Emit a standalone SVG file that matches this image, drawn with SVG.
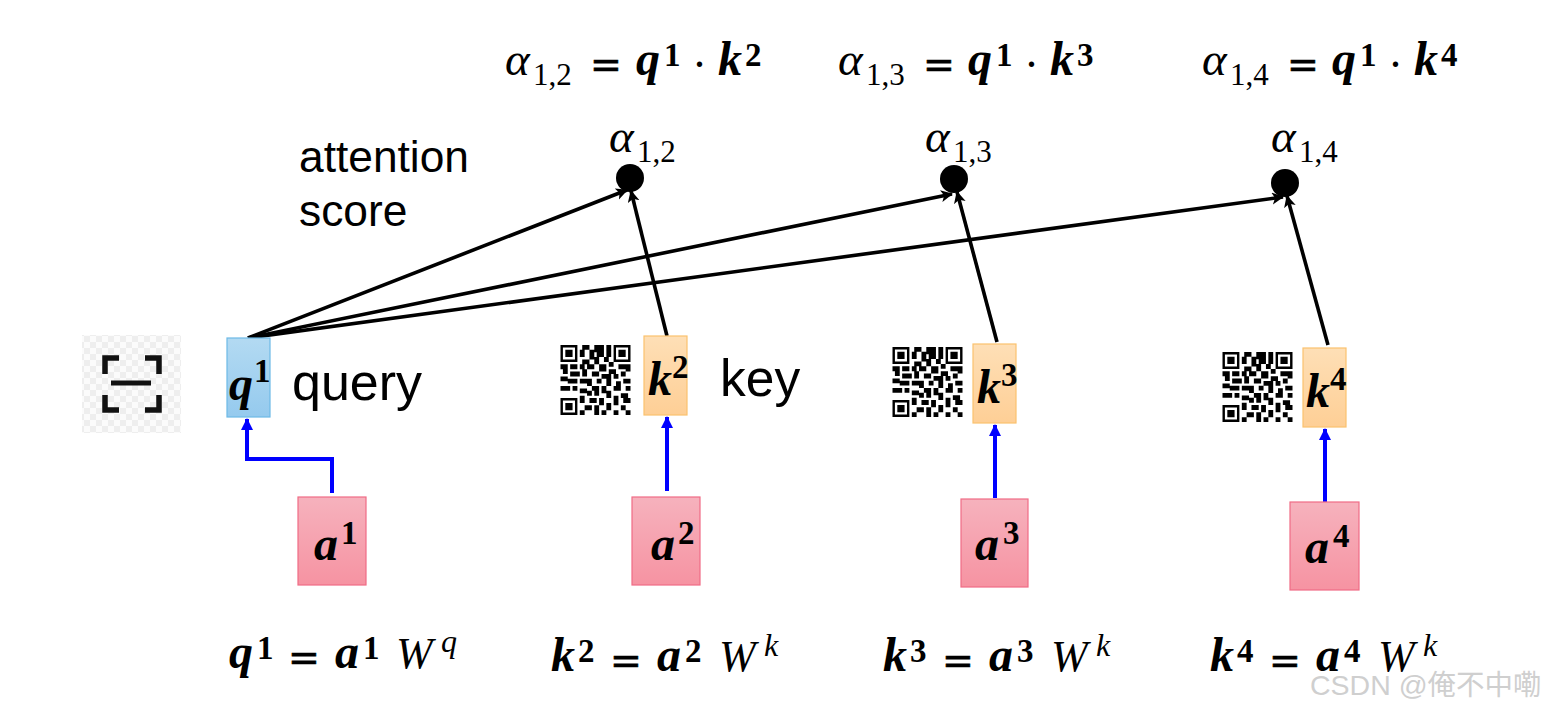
<svg xmlns="http://www.w3.org/2000/svg" xmlns:xlink="http://www.w3.org/1999/xlink" width="1544" height="710" viewBox="0 0 1544 710">
<style>
text{font-family:"Liberation Serif",serif;fill:#000}
.b{font-weight:bold;font-style:italic;font-size:48px}
.n{font-weight:bold;font-size:33px}
.i{font-style:italic;font-size:47px}
.sub{font-size:31px}
.wv{font-style:italic;font-size:44px}
.ws{font-style:italic;font-size:32px}
.eq{font-family:"DejaVu Sans",sans-serif;font-size:38px;stroke:#000;stroke-width:.7}
.l{font-family:"Liberation Sans",sans-serif}
.w{font-family:"Liberation Sans","Noto Sans CJK SC",sans-serif;font-size:28.500px;fill:#cfcfcf}
.blue{fill:url(#gb);stroke:#6db9e6;stroke-width:1.2}
.org{fill:url(#go);stroke:#fbc26e;stroke-width:1.2}
.red{fill:url(#gr);stroke:#f06c85;stroke-width:1.2}
.bk{fill:none;stroke:#000;stroke-width:3.6;marker-end:url(#ak)}
.bl{fill:none;stroke:#0000ff;stroke-width:4;marker-end:url(#ab)}
</style>
<defs>
<linearGradient id="gb" x1="0" y1="0" x2="0" y2="1"><stop offset="0" stop-color="#b3daf2"/><stop offset="1" stop-color="#95caee"/></linearGradient>
<linearGradient id="go" x1="0" y1="0" x2="0" y2="1"><stop offset="0" stop-color="#fedfb6"/><stop offset="1" stop-color="#fecf96"/></linearGradient>
<linearGradient id="gr" x1="0" y1="0" x2="0" y2="1"><stop offset="0" stop-color="#f6b2bd"/><stop offset="1" stop-color="#f693a2"/></linearGradient>
<marker id="ak" markerUnits="userSpaceOnUse" markerWidth="14" markerHeight="14" refX="11" refY="6" orient="auto"><path d="M0 0L12 6L0 12L3 6Z" fill="#000"/></marker>
<marker id="ab" markerUnits="userSpaceOnUse" markerWidth="14" markerHeight="14" refX="11" refY="6" orient="auto"><path d="M0 0L12 6L0 12Z" fill="#0000ff"/></marker>
<pattern id="chk" width="12" height="12" patternUnits="userSpaceOnUse"><rect width="12" height="12" fill="#fbfbfb"/><rect width="6" height="6" fill="#eeeeee"/><rect x="6" y="6" width="6" height="6" fill="#eeeeee"/></pattern>
<symbol id="qr" viewBox="0 0 29 29">
<path fill="#000" fill-rule="evenodd" d="M0 0h7v7h-7zM1 1v5h5v-5zM2 2h3v3h-3zM22 0h7v7h-7zM23 1v5h5v-5zM24 2h3v3h-3zM0 22h7v7h-7zM1 23v5h5v-5zM2 24h3v3h-3z
M9 0h3v2h-3zM14 0h4v3h-4zM19 0h2v2h-2zM8 2h2v3h-2zM12 2h2v4h-2zM15 3h3v2h-3zM19 2h2v3h-2zM9 6h3v2h-3zM14 5h2v3h-2zM18 5h2v2h-2zM8 8h2v2h-2zM11 8h3v2h-3zM16 8h3v3h-3zM20 7h2v2h-2z
M0 8h3v2h-3zM4 8h3v2h-3zM1 10h2v2h-2zM4 11h4v2h-4zM9 10h2v3h-2zM13 11h3v2h-3zM20 10h3v2h-3zM24 8h3v2h-3zM27 8h2v3h-2zM25 11h2v2h-2zM22 12h2v2h-2zM17 12h4v2h-4z
M0 13h3v2h-3zM3 14h4v2h-4zM8 14h3v2h-3zM11 14h2v3h-2zM15 14h2v2h-2zM19 14h2v3h-2zM26 14h3v2h-3zM23 15h2v2h-2zM0 17h4v2h-4zM5 17h2v2h-2zM8 18h3v2h-3zM13 17h3v2h-3zM17 17h2v3h-2zM22 17h3v2h-3zM27 17h2v2h-2z
M11 19h2v2h-2zM14 19h2v2h-2zM19 19h2v3h-2zM25 20h3v2h-3zM8 21h2v3h-2zM12 22h3v2h-3zM16 22h2v3h-2zM22 21h2v4h-2zM26 22h3v2h-3zM10 25h3v2h-3zM14 25h2v4h-2zM19 24h2v3h-2zM25 25h2v2h-2zM8 27h2v2h-2zM17 27h2v2h-2zM22 27h2v2h-2zM27 27h2v2h-2z"/>
</symbol>
</defs>

<g id="scan-icon">
<rect x="82" y="335" width="99" height="98" fill="url(#chk)"/>
<path d="M119 358H105V374M145 358H159V374M105 395V410H119M159 395V410H145" fill="none" stroke="#111" stroke-width="5.5"/>
<path d="M111 383H151" fill="none" stroke="#111" stroke-width="5"/>
</g>

<g id="connectors">
<path class="bk" d="M248 338L627 190"/>
<path class="bk" d="M248 338L952 194"/>
<path class="bk" d="M248 338L1283 197"/>
<path class="bk" d="M667 336L631 191"/>
<path class="bk" d="M997 342L957 192"/>
<path class="bk" d="M1328 345L1287 196"/>
<path class="bl" d="M332 493V459H247V419"/>
<path class="bl" d="M667 491V417"/>
<path class="bl" d="M995 498V425"/>
<path class="bl" d="M1325 502V429"/>
</g>

<g id="q1"><rect class="blue" x="227" y="338" width="43" height="79"/><text class="b" x="229" y="400">q</text><text class="n" x="254" y="382">1</text></g>
<g id="k2"><use xlink:href="#qr" href="#qr" x="560" y="345" width="71" height="70"/><rect class="org" x="644" y="336" width="43" height="79"/><text class="b" x="648" y="395">k</text><text class="n" x="672" y="378">2</text></g>
<g id="k3"><use xlink:href="#qr" href="#qr" x="892" y="347" width="71" height="70"/><rect class="org" x="973" y="344" width="43" height="79"/><text class="b" x="977" y="403">k</text><text class="n" x="1001" y="386">3</text></g>
<g id="k4"><use xlink:href="#qr" href="#qr" x="1222" y="352" width="71" height="70"/><rect class="org" x="1303" y="348" width="43" height="79"/><text class="b" x="1306" y="407">k</text><text class="n" x="1330" y="390">4</text></g>

<g id="a1"><rect class="red" x="298" y="497" width="68" height="88"/><text class="b" x="314" y="560">a</text><text class="n" x="341" y="544">1</text></g>
<g id="a2"><rect class="red" x="632" y="497" width="68" height="88"/><text class="b" x="651" y="560">a</text><text class="n" x="678" y="544">2</text></g>
<g id="a3"><rect class="red" x="961" y="499" width="67" height="88"/><text class="b" x="975" y="560">a</text><text class="n" x="1003" y="544">3</text></g>
<g id="a4"><rect class="red" x="1290" y="502" width="69" height="88"/><text class="b" x="1305" y="563">a</text><text class="n" x="1333" y="547">4</text></g>

<g id="alpha12"><circle cx="630" cy="178" r="14"/><text class="i" x="609" y="152">α</text><text class="sub" x="637" y="162">1,2</text></g>
<g id="alpha13"><circle cx="954" cy="179" r="14"/><text class="i" x="925" y="152">α</text><text class="sub" x="953" y="162">1,3</text></g>
<g id="alpha14"><circle cx="1285" cy="183" r="14"/><text class="i" x="1271" y="152">α</text><text class="sub" x="1299" y="162">1,4</text></g>

<g id="labels">
<text class="l" font-size="44.300" x="299" y="172">attention</text>
<text class="l" font-size="44.300" x="299" y="226">score</text>
<text class="l" font-size="52" x="292" y="400">query</text>
<text class="l" font-size="51.500" x="720" y="396">key</text>
</g>

<g id="top-formulas">
<g><text class="i" x="505" y="75">α</text><text class="sub" x="533" y="85">1,2</text><text class="eq" x="590" y="77">=</text><text class="b" x="636" y="75">q</text><text class="n" x="664" y="66">1</text><text class="n" x="694" y="75">·</text><text class="b" x="718" y="75">k</text><text class="n" x="745" y="66">2</text></g>
<g><text class="i" x="838" y="75">α</text><text class="sub" x="866" y="85">1,3</text><text class="eq" x="923" y="77">=</text><text class="b" x="968" y="75">q</text><text class="n" x="996" y="66">1</text><text class="n" x="1026" y="75">·</text><text class="b" x="1050" y="75">k</text><text class="n" x="1077" y="66">3</text></g>
<g><text class="i" x="1202" y="75">α</text><text class="sub" x="1230" y="85">1,4</text><text class="eq" x="1287" y="77">=</text><text class="b" x="1332" y="75">q</text><text class="n" x="1360" y="66">1</text><text class="n" x="1390" y="75">·</text><text class="b" x="1414" y="75">k</text><text class="n" x="1441" y="66">4</text></g>
</g>

<g id="bottom-formulas">
<g><text class="b" x="229" y="668">q</text><text class="n" x="257" y="659">1</text><text class="eq" x="288" y="670">=</text><text class="b" x="335" y="668">a</text><text class="n" x="363" y="659">1</text><text class="wv" x="396" y="668">W</text><text class="ws" x="441" y="652">q</text></g>
<g><text class="b" x="551" y="671">k</text><text class="n" x="578" y="662">2</text><text class="eq" x="610" y="673">=</text><text class="b" x="657" y="671">a</text><text class="n" x="685" y="662">2</text><text class="wv" x="719" y="671">W</text><text class="ws" x="764" y="656">k</text></g>
<g><text class="b" x="883" y="671">k</text><text class="n" x="910" y="662">3</text><text class="eq" x="942" y="673">=</text><text class="b" x="989" y="671">a</text><text class="n" x="1017" y="662">3</text><text class="wv" x="1051" y="671">W</text><text class="ws" x="1096" y="656">k</text></g>
<g><text class="b" x="1210" y="671">k</text><text class="n" x="1237" y="662">4</text><text class="eq" x="1269" y="673">=</text><text class="b" x="1316" y="671">a</text><text class="n" x="1344" y="662">4</text><text class="wv" x="1378" y="671">W</text><text class="ws" x="1423" y="656">k</text></g>
</g>

<text class="w" x="1310" y="695">CSDN @俺不中嘞</text>
</svg>
